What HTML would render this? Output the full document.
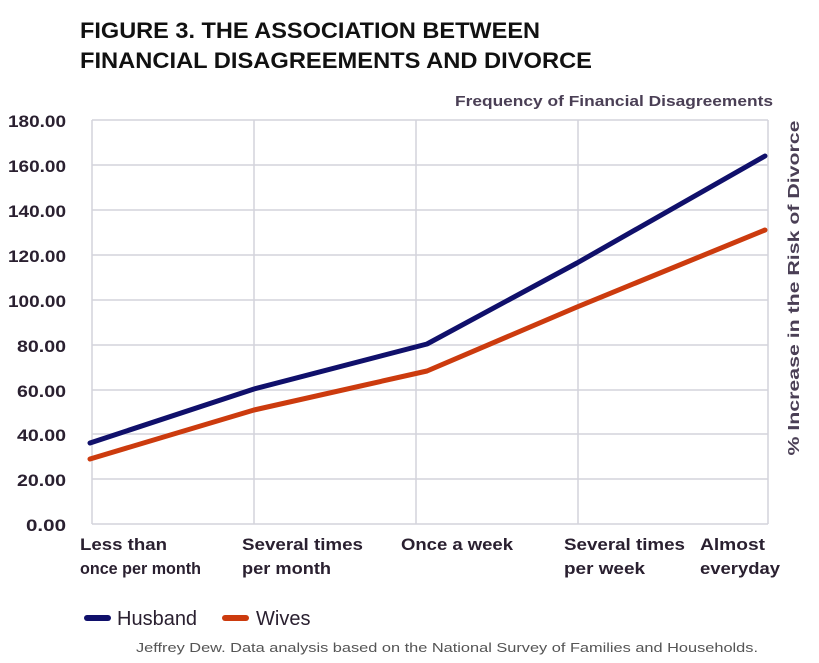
<!DOCTYPE html>
<html><head><meta charset="utf-8"><style>
html,body{margin:0;padding:0;background:#fff;}
svg{display:block;}
.t{font-family:"Liberation Sans",Arial,sans-serif;font-weight:bold;fill:#111;}
.n{font-family:"Liberation Sans Narrow","Liberation Sans",sans-serif;font-weight:bold;fill:#2a2030;}
</style></head><body>
<svg width="819" height="663" viewBox="0 0 819 663" xmlns="http://www.w3.org/2000/svg">
<text class="t" x="80" y="38" font-size="22" textLength="460" lengthAdjust="spacingAndGlyphs">FIGURE 3. THE ASSOCIATION BETWEEN</text>
<text class="t" x="80" y="68" font-size="22" textLength="512" lengthAdjust="spacingAndGlyphs">FINANCIAL DISAGREEMENTS AND DIVORCE</text>
<text class="n" x="455" y="106" font-size="15" textLength="318" lengthAdjust="spacingAndGlyphs" style="fill:#4a3f55">Frequency of Financial Disagreements</text>
<g stroke="#d4d4dc" stroke-width="1.5" fill="none">
<line x1="92" y1="120" x2="768" y2="120"/><line x1="92" y1="165" x2="768" y2="165"/><line x1="92" y1="210" x2="768" y2="210"/>
<line x1="92" y1="255" x2="768" y2="255"/><line x1="92" y1="300" x2="768" y2="300"/><line x1="92" y1="345" x2="768" y2="345"/>
<line x1="92" y1="390" x2="768" y2="390"/><line x1="92" y1="434" x2="768" y2="434"/><line x1="92" y1="479" x2="768" y2="479"/>
<line x1="92" y1="524" x2="768" y2="524"/>
<line x1="92" y1="120" x2="92" y2="524"/><line x1="254" y1="120" x2="254" y2="524"/><line x1="416" y1="120" x2="416" y2="524"/>
<line x1="578" y1="120" x2="578" y2="524"/><line x1="768" y1="120" x2="768" y2="524"/>
</g>
<g class="n" font-size="17" text-anchor="end">
<text x="66" y="127" textLength="58" lengthAdjust="spacingAndGlyphs">180.00</text><text x="66" y="172" textLength="58" lengthAdjust="spacingAndGlyphs">160.00</text><text x="66" y="217" textLength="58" lengthAdjust="spacingAndGlyphs">140.00</text>
<text x="66" y="262" textLength="58" lengthAdjust="spacingAndGlyphs">120.00</text><text x="66" y="307" textLength="58" lengthAdjust="spacingAndGlyphs">100.00</text><text x="66" y="352" textLength="49" lengthAdjust="spacingAndGlyphs">80.00</text>
<text x="66" y="397" textLength="49" lengthAdjust="spacingAndGlyphs">60.00</text><text x="66" y="441" textLength="49" lengthAdjust="spacingAndGlyphs">40.00</text><text x="66" y="486" textLength="49" lengthAdjust="spacingAndGlyphs">20.00</text>
<text x="66" y="531" textLength="40" lengthAdjust="spacingAndGlyphs">0.00</text>
</g>
<polyline points="90,443 254,389 427,344 577,263 765,156" fill="none" stroke="#10106b" stroke-width="5" stroke-linejoin="round" stroke-linecap="round"/>
<polyline points="90,459 254,410 427,371 577,307 765,230" fill="none" stroke="#cc3b0e" stroke-width="5" stroke-linejoin="round" stroke-linecap="round"/>
<text transform="translate(799,288) rotate(-90)" font-family="Liberation Sans,sans-serif" font-size="16" font-weight="bold" fill="#4a3f55" text-anchor="middle" textLength="335" lengthAdjust="spacingAndGlyphs">% Increase in the Risk of Divorce</text>
<g class="n" font-size="17">
<text x="80" y="550" textLength="87" lengthAdjust="spacingAndGlyphs">Less than</text><text x="80" y="574" textLength="121" lengthAdjust="spacingAndGlyphs">once per month</text>
<text x="242" y="550" textLength="121" lengthAdjust="spacingAndGlyphs">Several times</text><text x="242" y="574" textLength="89" lengthAdjust="spacingAndGlyphs">per month</text>
<text x="401" y="550" textLength="112" lengthAdjust="spacingAndGlyphs">Once a week</text>
<text x="564" y="550" textLength="121" lengthAdjust="spacingAndGlyphs">Several times</text><text x="564" y="574" textLength="81" lengthAdjust="spacingAndGlyphs">per week</text>
<text x="700" y="550" textLength="65" lengthAdjust="spacingAndGlyphs">Almost</text><text x="700" y="574" textLength="80" lengthAdjust="spacingAndGlyphs">everyday</text>
</g>
<line x1="87" y1="618" x2="108" y2="618" stroke="#10106b" stroke-width="6" stroke-linecap="round"/>
<text x="117" y="625" font-family="Liberation Sans,sans-serif" font-size="20" fill="#2a2030">Husband</text>
<line x1="225" y1="618" x2="246" y2="618" stroke="#cc3b0e" stroke-width="6" stroke-linecap="round"/>
<text x="256" y="625" font-family="Liberation Sans,sans-serif" font-size="20" fill="#2a2030">Wives</text>
<text x="136" y="652" font-family="Liberation Sans,sans-serif" font-size="12.5" fill="#555" textLength="622" lengthAdjust="spacingAndGlyphs">Jeffrey Dew. Data analysis based on the National Survey of Families and Households.</text>
</svg>
</body></html>
